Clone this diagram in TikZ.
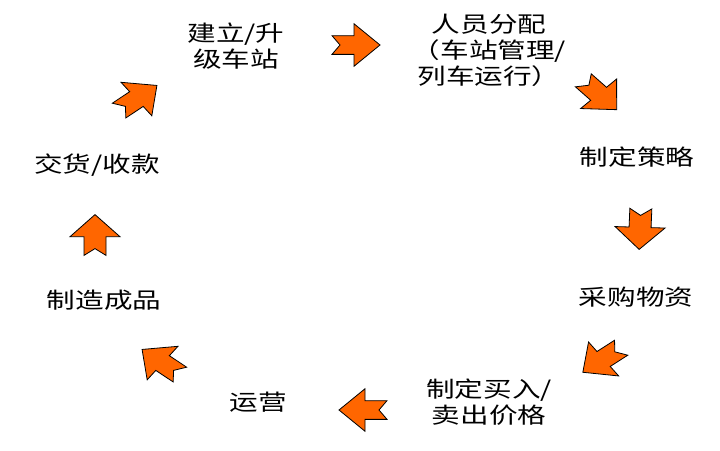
\documentclass[tikz,border=0pt]{standalone}
\usepackage{fontspec}
\newfontfamily\cjkfont[FakeStretch=1.3]{Noto Sans CJK SC}
\definecolor{arroworange}{HTML}{FF6600}
\tikzset{
	stage/.style={font=\cjkfont\fontsize{22}{26}\selectfont, align=center, inner sep=0pt},
	notcharrow/.pic={%
		\filldraw [fill=arroworange, draw=black, line width=0.8pt]
			(-24,11) -- (-2,11) -- (-2,25) -- (24,0) -- (-2,-25) -- (-2,-11) -- (-24,-11) -- (-16,0) -- cycle;
	}
}
\begin{document}
\begin{tikzpicture}[x=1pt,y=-1pt]
	\useasboundingbox (0,0) rectangle (720,450);
	\node [stage] (build)    at (236,46)  {建立/升\\级车站};
	\node [stage] (staff)    at (489,50)  {人员分配\\（车站管理/\\列车运行）};
	\node [stage] (strategy) at (637,157) {制定策略};
	\node [stage] (purchase) at (636,297) {采购物资};
	\node [stage] (price)    at (489,402) {制定买入/\\卖出价格};
	\node [stage] (operate)  at (258,402) {运营};
	\node [stage] (produce)  at (104,300) {制造成品};
	\node [stage] (deliver)  at (97,165)  {交货/收款};
	\foreach \x/\y/\a in {356/45/0, 600/95/-46, 640/229/-92, 602/360/-143,
			363/410/180, 161/362/142, 95/235/90, 138/98/38}{%
		\begin{scope}[shift={(\x,\y)}, yscale=0.85, rotate=\a, transform shape]
			\pic {notcharrow};
		\end{scope}
		}
\end{tikzpicture}
\end{document}
